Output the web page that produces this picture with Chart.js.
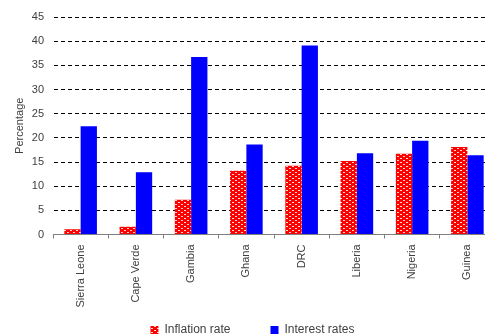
<!DOCTYPE html>
<html>
<head>
<meta charset="utf-8">
<script src="https://cdn.jsdelivr.net/npm/chart.js@4/dist/chart.umd.min.js"></script>
<style>
  html, body { margin: 0; padding: 0; background: #fff; overflow: hidden; }
  #wrap { width: 500px; height: 346px; }
</style>
</head>
<body>
<div id="wrap"><canvas id="c" width="500" height="346"></canvas></div>
<script>
// Countries on the category axis
const countries = ['Sierra Leone', 'Cape Verde', 'Gambia', 'Ghana', 'DRC', 'Liberia', 'Nigeria', 'Guinea'];
// Inflation rate (%)
const inflationRate = [1.1, 1.6, 7.2, 13.2, 14.2, 15.2, 16.7, 18.1];
// Interest rates (%)
const interestRates = [22.4, 12.9, 36.7, 18.6, 39.1, 16.8, 19.4, 16.4];
// Value axis
const yMin = 0, yMax = 45, yStep = 5;

// Red fill with small white dashes in a staggered brick layout
function brickPattern() {
  const t = document.createElement('canvas');
  t.width = 6; t.height = 4;
  const g = t.getContext('2d');
  g.fillStyle = '#ff0000';
  g.fillRect(0, 0, 6, 4);
  g.fillStyle = '#ffd6d6';
  g.fillRect(1, 0, 2, 1);
  g.fillRect(4, 2, 2, 1);
  return g.createPattern(t, 'repeat');
}

// The rotated country names hang below the short axis box, over the
// legend's top padding, so let them draw without the axis clip.
const unclipCategoryLabels = {
  id: 'unclipCategoryLabels',
  afterLayout(chart) {
    const x = chart.scales.x;
    if (x) x._computeLabelArea = () => undefined;
  }
};

const textColor = '#404040';
const font = { family: '"Liberation Sans", Arial, sans-serif', size: 11 };
const legendFont = { family: '"Liberation Sans", Arial, sans-serif', size: 12 };

new Chart(document.getElementById('c'), {
  type: 'bar',
  data: {
    labels: countries,
    datasets: [
      {
        label: 'Inflation rate',
        data: inflationRate,
        backgroundColor: brickPattern(),
        borderWidth: 0,
        categoryPercentage: 0.59,
        barPercentage: 1.0
      },
      {
        label: 'Interest rates',
        data: interestRates,
        backgroundColor: '#0000ff',
        borderWidth: 0,
        categoryPercentage: 0.59,
        barPercentage: 1.0
      }
    ]
  },
  plugins: [unclipCategoryLabels],
  options: {
    responsive: false,
    animation: false,
    devicePixelRatio: 1,
    layout: { padding: { top: 17, right: 5, left: 10, bottom: 0 } },
    plugins: {
      tooltip: { enabled: false },
      legend: {
        position: 'bottom',
        labels: {
          boxWidth: 8,
          boxHeight: 8,
          padding: 40,
          color: textColor,
          font: legendFont
        }
      }
    },
    scales: {
      x: {
        offset: true,
        grid: {
          offset: true,
          drawOnChartArea: false,
          drawTicks: true,
          tickLength: 4,
          color: '#808080'
        },
        border: { display: true, color: '#808080' },
        ticks: {
          color: textColor,
          font: font,
          minRotation: 90,
          maxRotation: 90,
          padding: 6,
          autoSkip: false
        },
        afterFit(scale) { scale.height = 49.5; }
      },
      y: {
        min: yMin,
        max: yMax,
        ticks: {
          stepSize: yStep,
          color: textColor,
          font: font,
          padding: 9
        },
        grid: {
          drawTicks: false,
          color: (ctx) => (ctx.tick && ctx.tick.value === 0 ? 'rgba(0,0,0,0)' : '#000000'),
          lineWidth: 1,
          borderDash: [4, 3]
        },
        border: { display: true, color: 'rgba(0,0,0,0)', dash: [4, 3] },
        title: {
          display: true,
          text: 'Percentage',
          color: textColor,
          font: font,
          padding: { top: 3, bottom: 0 }
        },
        afterFit(scale) { scale.width = 43; }
      }
    }
  }
});
</script>
</body>
</html>
